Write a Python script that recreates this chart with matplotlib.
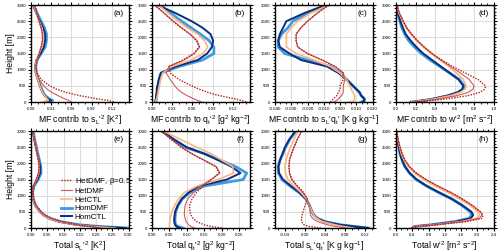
import matplotlib
matplotlib.use("Agg")
import matplotlib.pyplot as plt
from matplotlib.ticker import AutoMinorLocator, MultipleLocator
import numpy as np

plt.rcParams['font.family'] = ['Liberation Sans', 'DejaVu Sans']
plt.rcParams['mathtext.fontset'] = 'custom'
plt.rcParams['mathtext.rm'] = 'Liberation Sans'
plt.rcParams['mathtext.it'] = 'Liberation Sans'

# heights [m] shared by all profiles
z = [0, 50, 100, 200, 300, 400, 500, 700, 900, 1100, 1300, 1500, 1700, 1900, 2100, 2300, 2500, 2750, 3000]

runs = ["HomDMF", "HomCTL", "HetCTL", "HetDMF", "HetDMF, $\\beta$=0.5"]

# (a) MF contrib to sL'^2
a_homdmf = [0.022, 0.032, 0.027, 0.021, 0.018, 0.016, 0.014, 0.011, 0.008, 0.007, 0.009, 0.015, 0.021, 0.023, 0.023, 0.020, 0.015, 0.009, 0.004]
a_homctl = [0.020, 0.030, 0.025, 0.020, 0.017, 0.015, 0.013, 0.010, 0.007, 0.006, 0.008, 0.014, 0.019, 0.021, 0.021, 0.018, 0.013, 0.008, 0.003]
a_hetctl = [0.018, 0.026, 0.024, 0.020, 0.017, 0.015, 0.013, 0.010, 0.007, 0.006, 0.008, 0.012, 0.016, 0.018, 0.018, 0.016, 0.012, 0.008, 0.004]
a_hetdmf = [0.060, 0.056, 0.050, 0.040, 0.031, 0.024, 0.019, 0.012, 0.008, 0.007, 0.009, 0.012, 0.015, 0.017, 0.017, 0.015, 0.012, 0.008, 0.005]
a_beta = [0.123, 0.115, 0.098, 0.072, 0.052, 0.038, 0.028, 0.015, 0.009, 0.007, 0.009, 0.012, 0.015, 0.017, 0.017, 0.015, 0.012, 0.009, 0.006]

# (b) MF contrib to qt'^2
b_homdmf = [0.006, 0.006, 0.007, 0.007, 0.008, 0.008, 0.009, 0.011, 0.014, 0.040, 0.075, 0.092, 0.092, 0.085, 0.072, 0.058, 0.044, 0.028, 0.012]
b_homctl = [0.005, 0.005, 0.006, 0.006, 0.007, 0.007, 0.008, 0.010, 0.013, 0.035, 0.068, 0.082, 0.089, 0.091, 0.087, 0.075, 0.059, 0.035, 0.008]
b_hetctl = [0.005, 0.006, 0.007, 0.008, 0.009, 0.010, 0.011, 0.013, 0.016, 0.030, 0.058, 0.076, 0.083, 0.078, 0.068, 0.052, 0.039, 0.024, 0.010]
b_hetdmf = [0.074, 0.068, 0.062, 0.052, 0.044, 0.038, 0.034, 0.027, 0.021, 0.025, 0.048, 0.063, 0.071, 0.067, 0.057, 0.044, 0.032, 0.018, 0.004]
b_beta = [0.140, 0.133, 0.123, 0.100, 0.083, 0.070, 0.059, 0.040, 0.027, 0.025, 0.046, 0.062, 0.070, 0.066, 0.056, 0.043, 0.031, 0.018, 0.004]

# (c) MF contrib to sL'qt'
c_homdmf = [0.013, 0.015, 0.015, 0.013, 0.012, 0.010, 0.008, 0.004, 0.000, -0.006, -0.020, -0.034, -0.038, -0.038, -0.036, -0.032, -0.029, -0.020, -0.007]
c_homctl = [0.014, 0.015, 0.015, 0.013, 0.012, 0.010, 0.008, 0.004, -0.001, -0.008, -0.024, -0.031, -0.037, -0.038, -0.037, -0.035, -0.033, -0.022, -0.009]
c_hetctl = [0.006, 0.009, 0.009, 0.009, 0.008, 0.007, 0.006, 0.004, 0.000, -0.006, -0.016, -0.027, -0.033, -0.033, -0.033, -0.030, -0.026, -0.018, -0.007]
c_hetdmf = [-0.004, -0.002, -0.001, 0.001, 0.002, 0.002, 0.002, 0.003, 0.002, -0.003, -0.011, -0.020, -0.026, -0.027, -0.027, -0.024, -0.020, -0.014, -0.007]
c_beta = [-0.006, -0.005, -0.004, -0.002, -0.001, 0.000, 0.000, 0.002, 0.002, -0.003, -0.011, -0.020, -0.026, -0.027, -0.027, -0.024, -0.020, -0.014, -0.007]

# (d) MF contrib to w'^2
d_homdmf = [0.16, 0.29, 0.39, 0.54, 0.64, 0.69, 0.70, 0.65, 0.55, 0.45, 0.35, 0.26, 0.19, 0.13, 0.09, 0.06, 0.04, 0.02, 0.005]
d_homctl = [0.15, 0.28, 0.38, 0.53, 0.63, 0.68, 0.69, 0.64, 0.55, 0.46, 0.37, 0.28, 0.21, 0.15, 0.10, 0.07, 0.045, 0.02, 0.005]
d_hetctl = [0.16, 0.29, 0.40, 0.56, 0.66, 0.71, 0.72, 0.69, 0.62, 0.54, 0.45, 0.36, 0.28, 0.21, 0.15, 0.10, 0.07, 0.03, 0.008]
d_hetdmf = [0.17, 0.32, 0.45, 0.63, 0.74, 0.79, 0.80, 0.75, 0.66, 0.56, 0.46, 0.37, 0.29, 0.22, 0.16, 0.11, 0.075, 0.035, 0.008]
d_beta = [0.20, 0.38, 0.53, 0.74, 0.86, 0.91, 0.92, 0.84, 0.71, 0.58, 0.47, 0.37, 0.29, 0.22, 0.16, 0.11, 0.075, 0.035, 0.008]

# (e) Total sL'^2
e_homdmf = [0.30, 0.21, 0.15, 0.09, 0.058, 0.040, 0.029, 0.014, 0.007, 0.005, 0.009, 0.022, 0.031, 0.030, 0.026, 0.021, 0.017, 0.011, 0.007]
e_homctl = [0.29, 0.20, 0.14, 0.085, 0.055, 0.038, 0.027, 0.013, 0.006, 0.004, 0.008, 0.020, 0.028, 0.028, 0.024, 0.019, 0.015, 0.010, 0.006]
e_hetctl = [0.26, 0.19, 0.14, 0.085, 0.055, 0.038, 0.027, 0.013, 0.006, 0.004, 0.008, 0.017, 0.024, 0.025, 0.023, 0.019, 0.016, 0.011, 0.007]
e_hetdmf = [0.22, 0.18, 0.14, 0.09, 0.06, 0.041, 0.029, 0.014, 0.007, 0.005, 0.008, 0.016, 0.023, 0.025, 0.023, 0.019, 0.016, 0.011, 0.007]
e_beta = [0.21, 0.18, 0.145, 0.095, 0.065, 0.045, 0.032, 0.016, 0.008, 0.005, 0.008, 0.016, 0.023, 0.025, 0.023, 0.019, 0.016, 0.011, 0.007]

# (f) Total qt'^2
f_homdmf = [0.090, 0.075, 0.068, 0.066, 0.066, 0.067, 0.068, 0.075, 0.087, 0.110, 0.150, 0.262, 0.272, 0.240, 0.195, 0.150, 0.095, 0.060, 0.028]
f_homctl = [0.080, 0.070, 0.066, 0.064, 0.064, 0.065, 0.066, 0.074, 0.085, 0.105, 0.135, 0.215, 0.254, 0.228, 0.190, 0.150, 0.100, 0.062, 0.028]
f_hetctl = [0.052, 0.050, 0.050, 0.051, 0.052, 0.054, 0.057, 0.065, 0.076, 0.093, 0.130, 0.190, 0.234, 0.232, 0.200, 0.170, 0.128, 0.080, 0.033]
f_hetdmf = [0.123, 0.112, 0.105, 0.098, 0.095, 0.093, 0.093, 0.095, 0.103, 0.120, 0.140, 0.170, 0.195, 0.185, 0.150, 0.115, 0.085, 0.055, 0.028]
f_beta = [0.200, 0.170, 0.150, 0.128, 0.118, 0.112, 0.109, 0.108, 0.115, 0.128, 0.145, 0.170, 0.193, 0.183, 0.148, 0.113, 0.083, 0.054, 0.028]

# (g) Total sL'qt'
g_homdmf = [0.128, 0.100, 0.072, 0.040, 0.025, 0.018, 0.014, 0.009, 0.002, -0.012, -0.030, -0.046, -0.053, -0.054, -0.050, -0.044, -0.039, -0.030, -0.018]
g_homctl = [0.126, 0.098, 0.070, 0.039, 0.025, 0.018, 0.014, 0.009, 0.002, -0.011, -0.028, -0.044, -0.052, -0.053, -0.050, -0.045, -0.040, -0.031, -0.019]
g_hetctl = [0.096, 0.075, 0.060, 0.035, 0.024, 0.018, 0.014, 0.009, 0.003, -0.008, -0.022, -0.034, -0.039, -0.040, -0.038, -0.034, -0.029, -0.022, -0.014]
g_hetdmf = [0.082, 0.060, 0.045, 0.025, 0.015, 0.011, 0.010, 0.009, 0.004, -0.004, -0.016, -0.027, -0.031, -0.032, -0.031, -0.027, -0.022, -0.015, -0.007]
g_beta = [0.032, 0.008, -0.002, -0.007, -0.007, -0.006, -0.004, 0.000, 0.005, -0.003, -0.015, -0.026, -0.031, -0.032, -0.031, -0.027, -0.022, -0.015, -0.007]

# (h) Total w'^2
h_homdmf = [0.40, 0.46, 0.85, 1.45, 1.80, 1.86, 1.83, 1.62, 1.37, 1.05, 0.75, 0.50, 0.33, 0.22, 0.15, 0.10, 0.07, 0.03, 0.01]
h_homctl = [0.40, 0.46, 0.88, 1.48, 1.84, 1.90, 1.86, 1.64, 1.38, 1.06, 0.76, 0.51, 0.34, 0.22, 0.15, 0.10, 0.07, 0.03, 0.01]
h_hetctl = [0.40, 0.46, 0.92, 1.60, 1.98, 2.06, 2.02, 1.82, 1.56, 1.28, 0.96, 0.68, 0.46, 0.30, 0.20, 0.13, 0.09, 0.04, 0.01]
h_hetdmf = [0.40, 0.46, 0.95, 1.65, 2.05, 2.12, 2.08, 1.88, 1.63, 1.35, 1.03, 0.74, 0.50, 0.33, 0.22, 0.15, 0.10, 0.05, 0.01]
h_beta = [0.40, 0.50, 1.00, 1.75, 2.12, 2.14, 2.08, 1.88, 1.63, 1.35, 1.03, 0.74, 0.50, 0.33, 0.22, 0.15, 0.10, 0.05, 0.01]

# label pieces
SL2 = "s$_\\mathregular{L}$'$^\\mathregular{2}$"
QT2 = "q$_\\mathregular{t}$'$^\\mathregular{2}$"
SLQT = "s$_\\mathregular{L}$'q$_\\mathregular{t}$'"
W2 = "w'$^\\mathregular{2}$"
U_K2 = "[K$^\\mathregular{2}$]"
U_Q2 = "[g$^\\mathregular{2}$ kg$^\\mathregular{-2}$]"
U_KQ = "[K g kg$^\\mathregular{-1}$]"
U_W2 = "[m$^\\mathregular{2}$ s$^\\mathregular{-2}$]"

panels = [
    ("(a)", "MF contrib to " + SL2 + " " + U_K2,
     [a_homdmf, a_homctl, a_hetctl, a_hetdmf, a_beta], (0, 0.145), 0.03, "%.2f"),
    ("(b)", "MF contrib to " + QT2 + " " + U_Q2,
     [b_homdmf, b_homctl, b_hetctl, b_hetdmf, b_beta], (0, 0.145), 0.03, "%.2f"),
    ("(c)", "MF contrib to " + SLQT + " " + U_KQ,
     [c_homdmf, c_homctl, c_hetctl, c_hetdmf, c_beta], (-0.04, 0.02), 0.01, "%.3f"),
    ("(d)", "MF contrib to " + W2 + " " + U_W2,
     [d_homdmf, d_homctl, d_hetctl, d_hetdmf, d_beta], (0, 1.0), 0.2, "%.1f"),
    ("(e)", "Total " + SL2 + " " + U_K2,
     [e_homdmf, e_homctl, e_hetctl, e_hetdmf, e_beta], (0, 0.30), 0.05, "%.2f"),
    ("(f)", "Total " + QT2 + " " + U_Q2,
     [f_homdmf, f_homctl, f_hetctl, f_hetdmf, f_beta], (0, 0.28), 0.05, "%.2f"),
    ("(g)", "Total " + SLQT + " " + U_KQ,
     [g_homdmf, g_homctl, g_hetctl, g_hetdmf, g_beta], (-0.06, 0.135), 0.04, "%.2f"),
    ("(h)", "Total " + W2 + " " + U_W2,
     [h_homdmf, h_homctl, h_hetctl, h_hetdmf, h_beta], (0, 2.4), 0.4, "%.1f"),
]

styles = [
    dict(color="#3d9be0", lw=2.0, ls="-"),
    dict(color="#0b2f7e", lw=1.4, ls="-"),
    dict(color="#fdb57f", lw=1.2, ls="-"),
    dict(color="#d05a5a", lw=0.8, ls="-"),
    dict(color="#b01e1e", lw=1.0, ls=(0, (1, 1))),
]

fig = plt.figure(figsize=(5.0, 2.52), dpi=100)
lefts = [0.062, 0.304, 0.550, 0.792]
bottoms = [0.595, 0.095]
w, h = 0.195, 0.385

for i, (tag, xlabel, series, xlim, step, fmt) in enumerate(panels):
    ax = fig.add_axes([lefts[i % 4], bottoms[i // 4], w, h])
    for k, vals in enumerate(series):
        ax.plot(vals, z, label=runs[k], **styles[k])
    ax.set_xlim(*xlim)
    ax.set_ylim(0, 3000)
    ax.xaxis.set_major_locator(MultipleLocator(step))
    ax.yaxis.set_major_locator(MultipleLocator(500))
    ax.xaxis.set_minor_locator(AutoMinorLocator(3))
    ax.yaxis.set_minor_locator(AutoMinorLocator(5))
    ax.xaxis.set_major_formatter(plt.FormatStrFormatter(fmt))
    ax.grid(True, color="#dddddd", lw=0.8)
    ax.set_axisbelow(True)
    ax.tick_params(which="both", direction="out", top=True, right=True, labelsize=3.2, pad=1.2)
    ax.tick_params(which="major", length=2.2, width=0.8)
    ax.tick_params(which="minor", length=1.2, width=0.6)
    for s in ax.spines.values():
        s.set_linewidth(1.0)
    ax.set_xlabel(xlabel, fontsize=6.2, labelpad=1.5)
    if i % 4 == 0:
        ax.set_ylabel("Height [m]", fontsize=6.2, labelpad=1.5)
    ax.text(0.95, 0.95, tag, transform=ax.transAxes, ha="right", va="top", fontsize=6)
    if i == 4:
        handles, labels = ax.get_legend_handles_labels()
        order = [4, 3, 2, 0, 1]
        ax.legend([handles[j] for j in order], [labels[j] for j in order],
                  loc="upper left", bbox_to_anchor=(0.3, 0.55), frameon=False,
                  fontsize=5.8, handlelength=1.4, handletextpad=0.3, labelspacing=0.12,
                  borderpad=0.1, borderaxespad=0)

fig.savefig("out.png", dpi=100)
